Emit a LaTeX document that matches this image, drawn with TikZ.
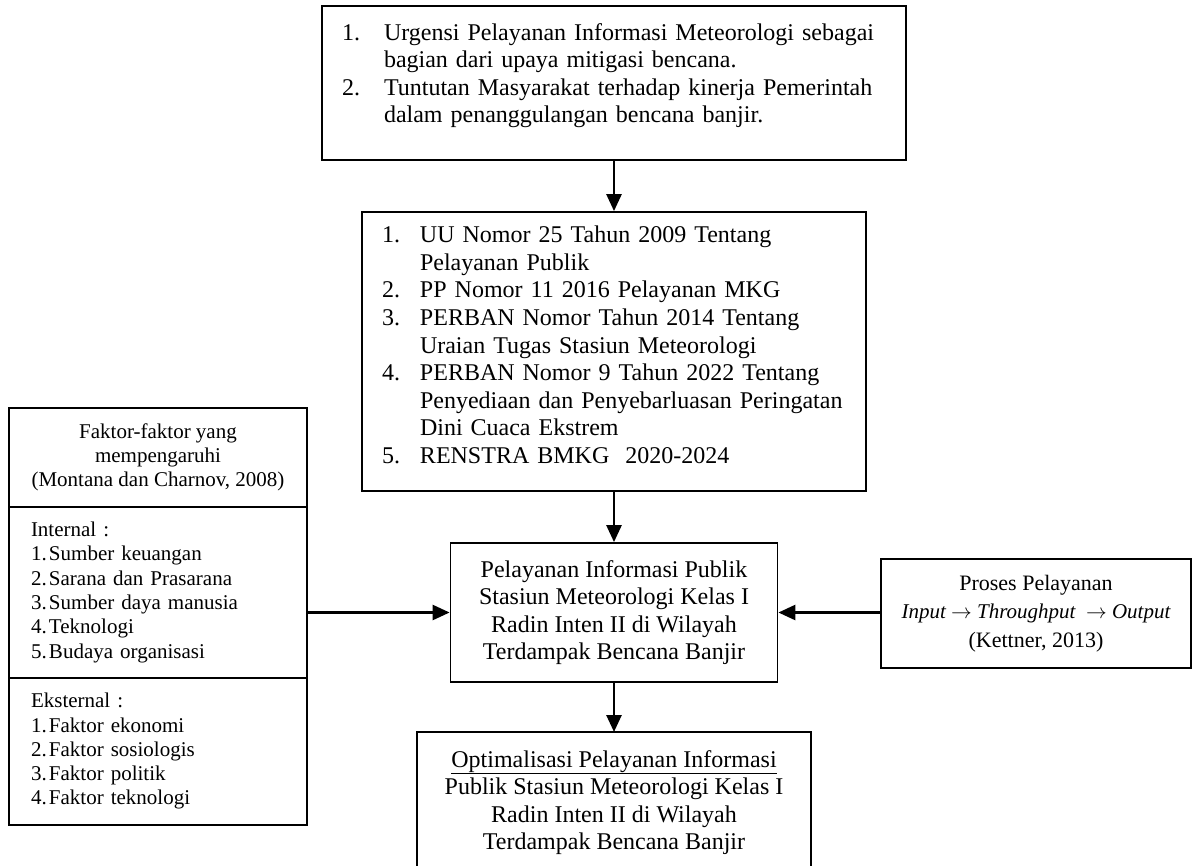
\documentclass[tikz,border=0pt]{standalone}
\usepackage{fontspec}
\setmainfont{Liberation Serif}
\usetikzlibrary{arrows.meta}
\begin{document}
\begin{tikzpicture}[x=1pt,y=-1pt,
  box/.style={draw, line width=1.8pt, inner sep=0pt},
  boxline/.style={line width=1.8pt},
  big/.style={font=\fontsize{24}{27.6}\selectfont},
  small/.style={font=\fontsize{21}{24.3}\selectfont},
  arr/.style={line width=2.6pt, -{Triangle[length=17pt,width=15pt]}}]
\useasboundingbox (0,0) rectangle (1202,865);

% background and motivation
\node[box, big, minimum width=584pt, minimum height=154pt, text width=544pt,
      inner xsep=20pt, align=left] (urg) at (614,83) {%
\begin{tabular}{@{}p{42pt}@{}l@{}}
1. & Urgensi Pelayanan Informasi Meteorologi sebagai\\
   & bagian dari upaya mitigasi bencana.\\
2. & Tuntutan Masyarakat terhadap kinerja Pemerintah\\
   & dalam penanggulangan bencana banjir.\\[14pt]
\end{tabular}};

% legal basis
\node[box, big, minimum width=504pt, minimum height=279pt, text width=464pt,
      inner xsep=20pt, align=left] (law) at (614,351.5) {%
\begin{tabular}{@{}p{38pt}@{}l@{}}
1. & UU Nomor 25 Tahun 2009 Tentang\\
   & Pelayanan Publik\\
2. & PP Nomor 11 2016 Pelayanan MKG\\
3. & PERBAN Nomor Tahun 2014 Tentang\\
   & Uraian Tugas Stasiun Meteorologi\\
4. & PERBAN Nomor 9 Tahun 2022 Tentang\\
   & Penyediaan dan Penyebarluasan Peringatan\\
   & Dini Cuaca Ekstrem\\
5. & RENSTRA BMKG\ \ 2020-2024\\[8pt]
\end{tabular}};

% central topic
\node[box, big, minimum width=327pt, minimum height=139pt, align=center]
  (svc) at (614,612.5)
  {Pelayanan Informasi Publik\\Stasiun Meteorologi Kelas I\\Radin Inten II di Wilayah\\Terdampak Bencana Banjir};

% service process
\node[box, minimum width=310pt, minimum height=109pt, align=center,
      font=\fontsize{22}{28.5}\selectfont] (proc) at (1036,613.5)
  {Proses Pelayanan\\{\fontsize{21}{28.5}\selectfont\itshape Input $\rightarrow$ Throughput\ \ $\rightarrow$ Output}\\(Kettner, 2013)};

% influencing factors
\node[box, small, minimum width=298pt, minimum height=99pt, align=center]
  (lhead) at (158,457.5) {Faktor-faktor yang\\mempengaruhi\\(Montana dan Charnov, 2008)};
\node[box, small, minimum width=298pt, minimum height=171pt, text width=254pt,
      inner xsep=22pt, align=left] (lint) at (158,592.5) {%
\begin{tabular}{@{}p{18pt}@{}l@{}}
\multicolumn{2}{@{}l@{}}{Internal :}\\
1. & Sumber keuangan\\
2. & Sarana dan Prasarana\\
3. & Sumber daya manusia\\
4. & Teknologi\\
5. & Budaya organisasi
\end{tabular}};
\node[box, small, minimum width=298pt, minimum height=147pt, text width=254pt,
      inner xsep=22pt, align=left] (lext) at (158,751.5) {%
\begin{tabular}{@{}p{18pt}@{}l@{}}
\multicolumn{2}{@{}l@{}}{Eksternal :}\\
1. & Faktor ekonomi\\
2. & Faktor sosiologis\\
3. & Faktor politik\\
4. & Faktor teknologi
\end{tabular}};

% outcome (box runs past the lower edge)
\node[big, anchor=north, inner xsep=0pt, inner ysep=18pt, minimum width=394pt,
      align=center] (opt) at (614,732)
  {\underline{Optimalisasi Pelayanan Informasi}\\Publik Stasiun Meteorologi Kelas I\\Radin Inten II di Wilayah\\Terdampak Bencana Banjir};
\draw[boxline] (opt.north west |- 0,875) -- (opt.north west) -- (opt.north east) -- (opt.north east |- 0,875);

% connectors
\draw[arr] (urg.south) -- (law.north);
\draw[arr] (law.south) -- (svc.north);
\draw[arr] (svc.south) -- (opt.north);
\draw[arr] (lint.east |- svc.west) -- (svc.west);
\draw[arr] (proc.west |- svc.east) -- (svc.east);
\end{tikzpicture}
\end{document}
